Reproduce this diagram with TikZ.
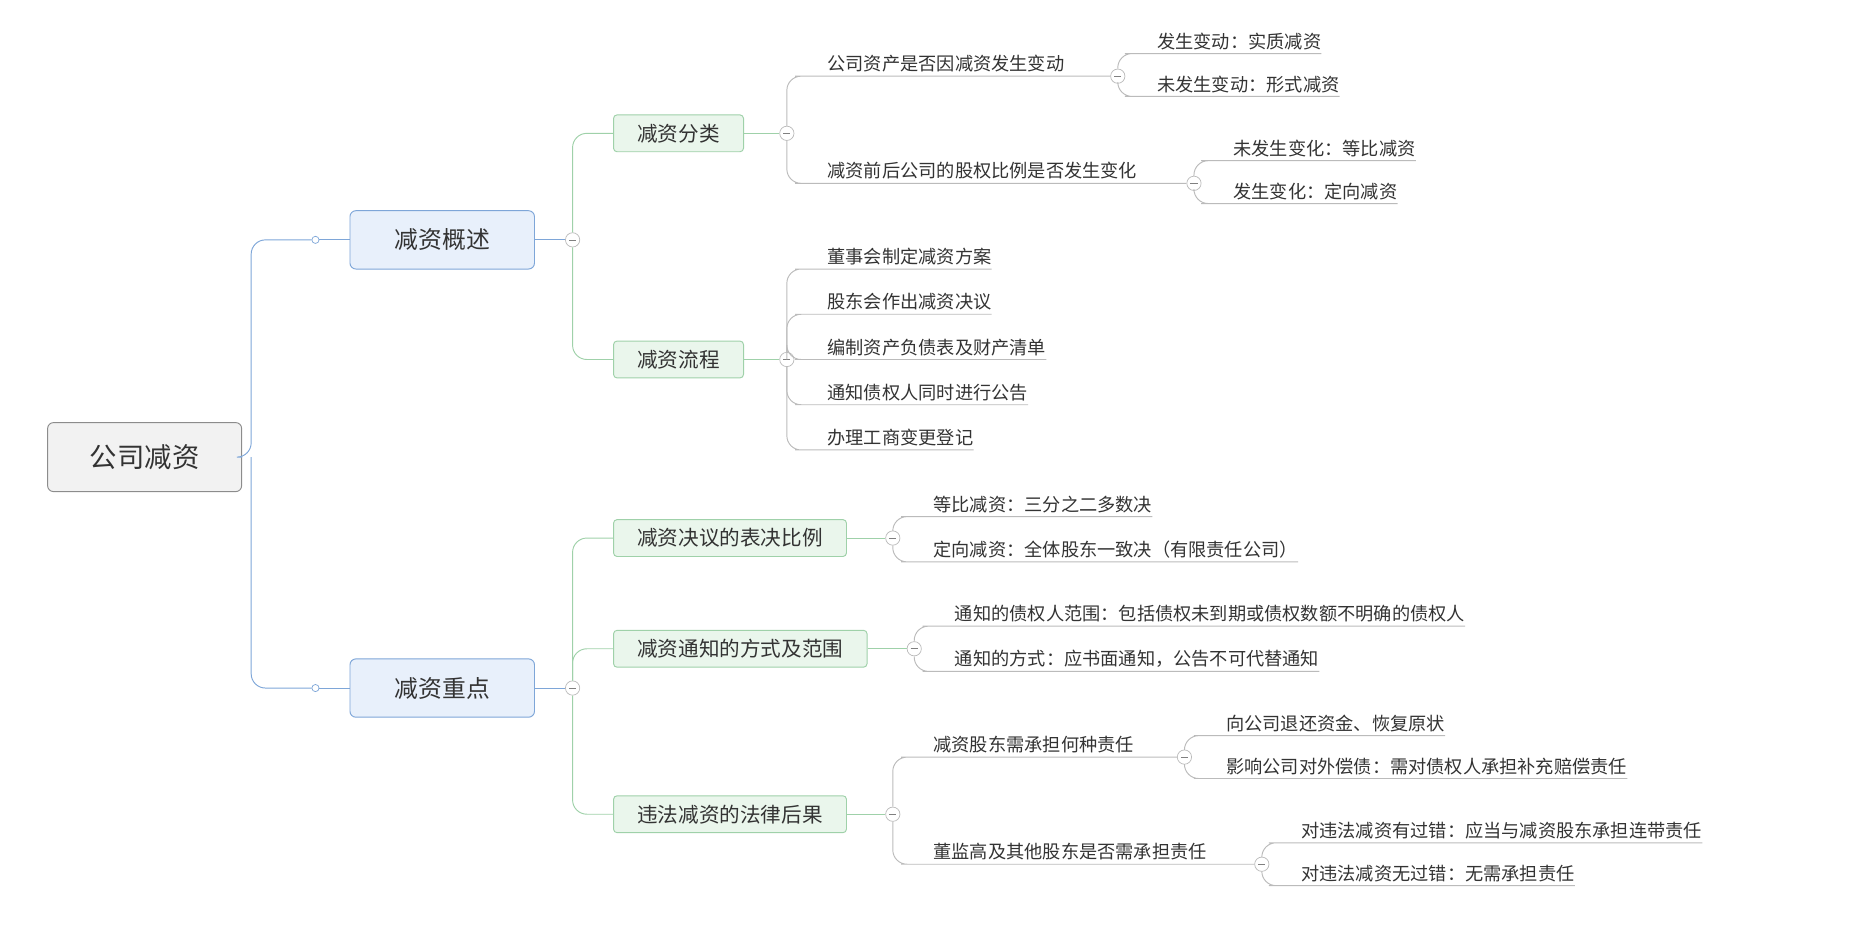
\documentclass[tikz,border=0pt]{standalone}
\usepackage{fontspec}
\setmainfont{Noto Sans CJK SC}
\definecolor{rootf}{HTML}{F2F2F2}
\definecolor{rootd}{HTML}{8C8C8C}
\definecolor{bluef}{HTML}{E8F0FB}
\definecolor{blued}{HTML}{7EA6D8}
\definecolor{greenf}{HTML}{EAF6EC}
\definecolor{greend}{HTML}{9FD1A9}
\definecolor{leafl}{HTML}{BBBBBB}
\definecolor{txt}{HTML}{333333}
\begin{document}
\begin{tikzpicture}[x=1pt,y=-1pt,
  rootbox/.style={draw=rootd,fill=rootf,rounded corners=5pt,minimum width=163pt,minimum height=58pt,font=\fontsize{23}{25}\selectfont,text=txt,line width=0.8pt},
  l1box/.style={draw=blued,fill=bluef,rounded corners=5pt,minimum width=155pt,minimum height=49pt,font=\fontsize{20}{22}\selectfont,text=txt,line width=0.8pt},
  l2box/.style={draw=greend,fill=greenf,rounded corners=3pt,anchor=west,minimum height=31pt,inner xsep=20pt,font=\fontsize{17.3}{19}\selectfont,text=txt,line width=0.8pt},
  leaf/.style={anchor=south west,inner xsep=0pt,inner ysep=3pt,font=\fontsize{15.3}{17}\selectfont,text=txt},
  mcirc/.style={circle,draw=leafl,fill=white,minimum size=12pt,inner sep=0pt,line width=0.6pt,
     path picture={\draw[gray] ([xshift=-3pt]path picture bounding box.center)--([xshift=3pt]path picture bounding box.center);}},
  scirc/.style={circle,draw=blued,fill=white,minimum size=6pt,inner sep=0pt,line width=0.6pt},
  bl/.style={draw=blued,line width=0.8pt,rounded corners=12pt},
  gl/.style={draw=greend,line width=0.8pt,rounded corners=12pt},
  ll/.style={draw=leafl,line width=0.8pt,rounded corners=12pt}]
\useasboundingbox (0,0) rectangle (1560,786);
% root and level 1
\node[rootbox] (root) at (121.5,384) {公司减资};
\node[l1box] (A) at (371.5,201.5) {减资概述};
\node[l1box] (B) at (371.5,578) {减资重点};
\coordinate (rj) at (211,384);
\node[scirc] (sa) at (265,201.5) {};
\node[scirc] (sb) at (265,578) {};
\draw[bl] (root.east) -- (rj) |- (sa.west);
\draw[bl] (rj) |- (sb.west);
\draw[bl] (sa) -- (A.west);
\draw[bl] (sb) -- (B.west);
\node[mcirc] (ma) at (481,201.5) {};
\node[mcirc] (mb) at (481,578) {};
\draw[bl] (A.east) -- (ma);
\draw[bl] (B.east) -- (mb);
% level 2
\node[l2box] (A1) at (515,112) {减资分类};
\node[l2box] (A2) at (515,302) {减资流程};
\node[l2box] (B1) at (515,452) {减资决议的表决比例};
\node[l2box] (B2) at (515,545) {减资通知的方式及范围};
\node[l2box] (B3) at (515,684) {违法减资的法律后果};
\foreach \c in {A1,A2} \draw[gl] (ma) |- (\c.west);
\foreach \c in {B1,B2,B3} \draw[gl] (mb) |- (\c.west);
\node[mcirc] (ma1) at (661,112) {};
\node[mcirc] (ma2) at (661,302) {};
\node[mcirc] (mb1) at (750,452) {};
\node[mcirc] (mb2) at (768,545) {};
\node[mcirc] (mb3) at (750,684) {};
\draw[gl] (A1.east) -- (ma1);
\draw[gl] (A2.east) -- (ma2);
\draw[gl] (B1.east) -- (mb1);
\draw[gl] (B2.east) -- (mb2);
\draw[gl] (B3.east) -- (mb3);
% A1 children
\node[leaf] (a11) at (695,64) {公司资产是否因减资发生变动};
\node[leaf] (a12) at (695,154) {减资前后公司的股权比例是否发生变化};
\node[mcirc] (ma11) at (939,64) {};
\node[mcirc] (ma12) at (1003,154) {};
\draw[ll] (ma1) |- ([xshift=-15pt]a11.south west) -- (ma11.west);
\draw[ll] (ma1) |- ([xshift=-15pt]a12.south west) -- (ma12.west);
\node[leaf] (a111) at (972,45) {发生变动：实质减资};
\node[leaf] (a112) at (972,81) {未发生变动：形式减资};
\node[leaf] (a121) at (1036,135) {未发生变化：等比减资};
\node[leaf] (a122) at (1036,171) {发生变化：定向减资};
\foreach \c in {a111,a112} \draw[ll] (ma11) |- ([xshift=-15pt]\c.south west) -- (\c.south east);
\foreach \c in {a121,a122} \draw[ll] (ma12) |- ([xshift=-15pt]\c.south west) -- (\c.south east);
% A2 children
\node[leaf] (a21) at (695,226) {董事会制定减资方案};
\node[leaf] (a22) at (695,264) {股东会作出减资决议};
\node[leaf] (a23) at (695,302) {编制资产负债表及财产清单};
\node[leaf] (a24) at (695,340) {通知债权人同时进行公告};
\node[leaf] (a25) at (695,378) {办理工商变更登记};
\foreach \c in {a21,a22,a23,a24,a25} \draw[ll] (ma2) |- ([xshift=-15pt]\c.south west) -- (\c.south east);
% B1 children
\node[leaf] (b11) at (784,434) {等比减资：三分之二多数决};
\node[leaf] (b12) at (784,472) {定向减资：全体股东一致决（有限责任公司）};
\foreach \c in {b11,b12} \draw[ll] (mb1) |- ([xshift=-15pt]\c.south west) -- (\c.south east);
% B2 children
\node[leaf] (b21) at (802,526) {通知的债权人范围：包括债权未到期或债权数额不明确的债权人};
\node[leaf] (b22) at (802,564) {通知的方式：应书面通知，公告不可代替通知};
\foreach \c in {b21,b22} \draw[ll] (mb2) |- ([xshift=-15pt]\c.south west) -- (\c.south east);
% B3 children
\node[leaf] (b31) at (784,636) {减资股东需承担何种责任};
\node[leaf] (b32) at (784,726) {董监高及其他股东是否需承担责任};
\node[mcirc] (mb31) at (995,636) {};
\node[mcirc] (mb32) at (1060,726) {};
\draw[ll] (mb3) |- ([xshift=-15pt]b31.south west) -- (mb31.west);
\draw[ll] (mb3) |- ([xshift=-15pt]b32.south west) -- (mb32.west);
\node[leaf] (b311) at (1030,618) {向公司退还资金、恢复原状};
\node[leaf] (b312) at (1030,654) {影响公司对外偿债：需对债权人承担补充赔偿责任};
\node[leaf] (b321) at (1093,708) {对违法减资有过错：应当与减资股东承担连带责任};
\node[leaf] (b322) at (1093,744) {对违法减资无过错：无需承担责任};
\foreach \c in {b311,b312} \draw[ll] (mb31) |- ([xshift=-15pt]\c.south west) -- (\c.south east);
\foreach \c in {b321,b322} \draw[ll] (mb32) |- ([xshift=-15pt]\c.south west) -- (\c.south east);
\end{tikzpicture}
\end{document}
